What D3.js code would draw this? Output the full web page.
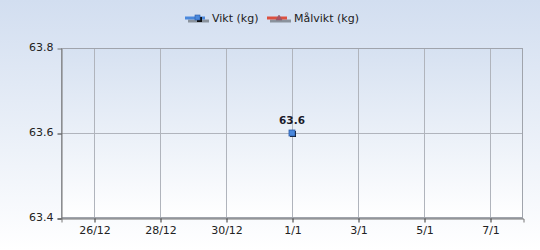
<!DOCTYPE html>
<html><head><meta charset="utf-8">
<script src="https://cdn.jsdelivr.net/npm/d3@7"></script>
<style>body{margin:0;}svg{display:block;}text{font-family:"DejaVu Sans",Verdana,sans-serif;}</style>
</head><body>
<script>
const dates = ["2023-01-01"];
const vikt = [63.6];
const malvikt = [];
const seriesNames = ["Vikt (kg)", "Målvikt (kg)"];
const seriesColors = ["#4a88dc", "#dc5040"];
const yTicks = [63.4, 63.6, 63.8];
const xTickDates = ["2022-12-26","2022-12-28","2022-12-30","2023-01-01","2023-01-03","2023-01-05","2023-01-07"];
const xDomain = ["2022-12-25","2023-01-08"];

const W = 540, H = 250;
const m = {l:61, r:17, t:48, b:32};
const parse = d3.utcParse("%Y-%m-%d");
const svg = d3.select("body").append("svg").attr("width", W).attr("height", H);
const defs = svg.append("defs");
const bg = defs.append("linearGradient").attr("id","bg").attr("x1",0).attr("y1",0).attr("x2",0).attr("y2",1);
bg.append("stop").attr("offset",0).attr("stop-color","#d2def0");
bg.append("stop").attr("offset",1).attr("stop-color","#ffffff");
const pg = defs.append("linearGradient").attr("id","pg").attr("x1",0).attr("y1",0).attr("x2",0).attr("y2",1);
pg.append("stop").attr("offset",0).attr("stop-color","#d6e1f1");
pg.append("stop").attr("offset",1).attr("stop-color","#ffffff");
svg.append("rect").attr("width",W).attr("height",H).attr("fill","url(#bg)");

const x = d3.scaleUtc().domain(xDomain.map(parse)).range([m.l, W-m.r]);
const y = d3.scaleLinear().domain([63.4, 63.8]).range([H-m.b, m.t]);

svg.append("rect").attr("x",m.l).attr("y",m.t).attr("width",W-m.r-m.l).attr("height",H-m.b-m.t).attr("fill","url(#pg)");

// grid
const g = svg.append("g");
xTickDates.map(parse).forEach(d=>{
  g.append("line").attr("x1",Math.round(x(d))+0.5).attr("x2",Math.round(x(d))+0.5).attr("y1",m.t).attr("y2",H-m.b).attr("stroke","#b0b4bc");
});
yTicks.forEach(v=>{
  g.append("line").attr("x1",m.l).attr("x2",W-m.r).attr("y1",Math.round(y(v))+0.5).attr("y2",Math.round(y(v))+0.5).attr("stroke","#b0b4bc");
});
// border
svg.append("rect").attr("x",m.l+0.5).attr("y",m.t+0.5).attr("width",W-m.r-m.l-1).attr("height",H-m.b-m.t-1).attr("fill","none").attr("stroke","#a0a4ac");

// axes
const xa = svg.append("g").attr("transform",`translate(0.5,${H-m.b+0.5})`)
  .call(d3.axisBottom(x).tickValues(xTickDates.map(parse)).tickFormat(d=>`${d.getUTCDate()}/${d.getUTCMonth()+1}`).tickSizeOuter(0).tickSize(4).tickPadding(4));
xa.select(".domain").attr("stroke","#777");
xa.selectAll(".tick line").attr("stroke","#333");
xa.selectAll("text").attr("font-size",11).attr("fill","#222").attr("font-family","DejaVu Sans");
const ya = svg.append("g").attr("transform",`translate(${m.l+0.5},0.5)`)
  .call(d3.axisLeft(y).tickValues(yTicks).tickFormat(d3.format(".1f")).tickSizeOuter(0).tickSize(4).tickPadding(4));
ya.select(".domain").attr("stroke","#777");
ya.selectAll(".tick line").attr("stroke","#333").attr("opacity",d=>d===63.8?0:1);
ya.selectAll("text").attr("font-size",11).attr("fill","#222").attr("font-family","DejaVu Sans").attr("dy","0.2em");

// data points
const pts = dates.map((d,i)=>({d:parse(d), v:vikt[i]}));
const pg2 = svg.append("g");
pts.forEach(p=>{
  const cx = Math.round(x(p.d)), cy = Math.round(y(p.v));
  pg2.append("rect").attr("x",cx-2).attr("y",cy-2).attr("width",6).attr("height",6).attr("fill","#111");
  pg2.append("rect").attr("x",cx-3).attr("y",cy-3).attr("width",6).attr("height",6).attr("fill",seriesColors[0]).attr("stroke","#2a5aa8").attr("stroke-width",0.8);
  pg2.append("text").attr("x",cx).attr("y",cy-9).attr("text-anchor","middle").attr("font-size",10.5).attr("font-weight","bold").attr("fill","#1a1a2a").text(d3.format(".1f")(p.v));
});

// legend
const legX = [185, 267];
seriesNames.forEach((n,i)=>{
  const lg = svg.append("g").attr("transform",`translate(${legX[i]},18)`);
  lg.append("line").attr("x1",3).attr("x2",24).attr("y1",3).attr("y2",3).attr("stroke","#8a929c").attr("stroke-width",3);
  lg.append("line").attr("x1",0).attr("x2",20).attr("y1",0).attr("y2",0).attr("stroke",seriesColors[i]).attr("stroke-width",3);
  if(i===0){
    lg.append("rect").attr("x",12).attr("y",-1).attr("width",5).attr("height",5).attr("fill","#111");
    lg.append("rect").attr("x",10).attr("y",-3).attr("width",5).attr("height",5).attr("fill",seriesColors[0]).attr("stroke","#2a5aa8").attr("stroke-width",0.6);
  } else {
    lg.append("path").attr("d","M9,2 L12,-3 L15,2 Z").attr("fill","#b05060").attr("stroke","#806070").attr("stroke-width",0.6);
  }
  lg.append("text").attr("x",27).attr("y",4).attr("font-size",11).attr("fill","#222").text(n);
});
</script>
</body></html>
